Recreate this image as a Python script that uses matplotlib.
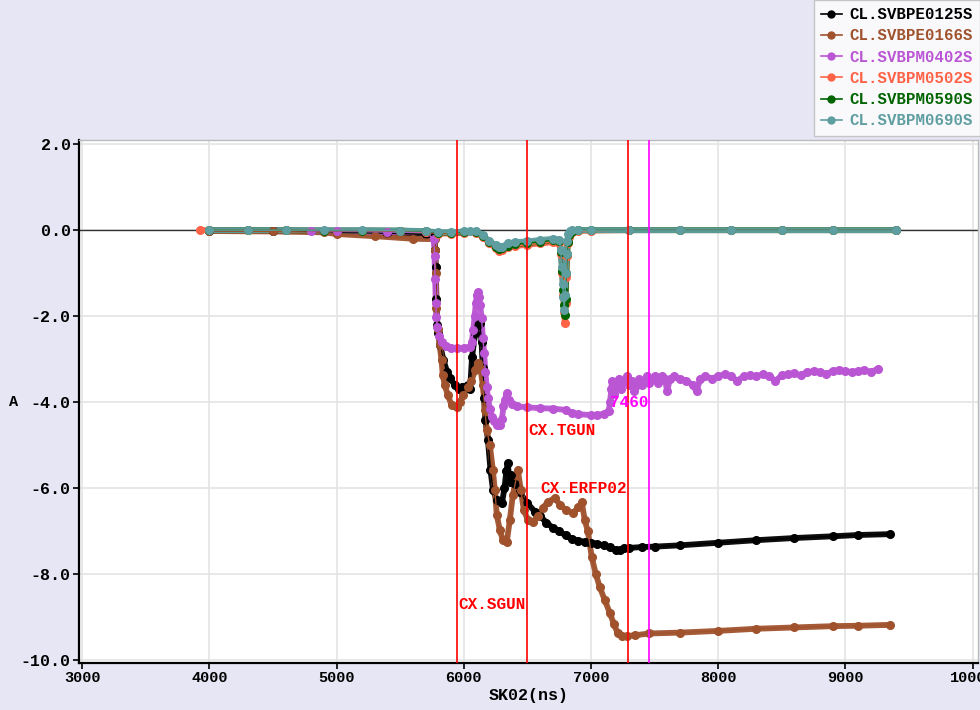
import matplotlib
matplotlib.use("Agg")
import matplotlib.pyplot as plt
from matplotlib.lines import Line2D

# ---------------- data ----------------
names = ["CL.SVBPE0125S", "CL.SVBPE0166S", "CL.SVBPM0402S",
         "CL.SVBPM0502S", "CL.SVBPM0590S", "CL.SVBPM0690S"]
colors = ["#000000", "#A0522D", "#BA55D3", "#FF6347", "#006400", "#5F9EA0"]

e0125_x = [4000, 4500, 4900, 5000, 5400, 5700, 5770, 5775, 5780, 5785, 5790, 5800, 5815, 5840,
           5870, 5890, 5930, 5960, 5990, 6030, 6050, 6065, 6090, 6110, 6127, 6140, 6150, 6160,
           6170, 6190, 6210, 6230, 6260, 6300, 6320, 6335, 6346, 6360, 6375, 6400, 6440, 6500,
           6560, 6600, 6650, 6700, 6750, 6800, 6850, 6900, 6950, 7000, 7050, 7100, 7150, 7200,
           7230, 7260, 7300, 7400, 7500, 7700, 8000, 8300, 8600, 8900, 9100, 9350]
e0125_y = [-0.01, -0.01, -0.03, -0.05, -0.07, -0.1, -0.12, -0.47, -0.86, -1.6, -2.2, -2.4, -2.67,
           -3.02, -3.3, -3.44, -3.6, -3.7, -3.65, -3.6, -3.7, -2.95, -2.4, -2.2, -2.16, -2.6, -3.2,
           -3.9, -4.42, -4.88, -5.58, -6.05, -6.28, -6.35, -6.0, -5.6, -5.42, -5.85, -5.7, -5.9,
           -6.1, -6.35, -6.55, -6.65, -6.8, -6.92, -7.0, -7.1, -7.18, -7.22, -7.25, -7.27, -7.3,
           -7.33, -7.38, -7.45, -7.44, -7.4, -7.39, -7.37, -7.36, -7.33, -7.27, -7.21, -7.16,
           -7.12, -7.09, -7.07]

e0166_x = [4000, 4500, 4900, 5000, 5300, 5600, 5770, 5775, 5780, 5785, 5795, 5810, 5825, 5835,
           5850, 5875, 5905, 5945, 5970, 5993, 6030, 6060, 6090, 6111, 6130, 6150, 6166, 6181,
           6205, 6229, 6244, 6260, 6284, 6307, 6338, 6362, 6386, 6425, 6449, 6472, 6504, 6543,
           6580, 6620, 6660, 6716, 6760, 6800, 6857, 6900, 6928, 6951, 6975, 7006, 7038, 7069,
           7108, 7148, 7179, 7210, 7242, 7281, 7350, 7460, 7700, 8000, 8300, 8600, 8900, 9100,
           9350]
e0166_y = [-0.02, -0.03, -0.05, -0.09, -0.14, -0.2, -0.21, -0.47, -1.0, -1.81, -2.3, -2.67, -3.02,
           -3.37, -3.6, -3.84, -4.07, -4.12, -4.0, -3.84, -3.65, -3.5, -3.26, -3.09, -3.2, -3.6,
           -4.19, -4.65, -5.0, -5.58, -6.05, -6.63, -6.98, -7.21, -7.26, -6.74, -6.16, -5.58,
           -6.05, -6.51, -6.74, -6.79, -6.65, -6.47, -6.32, -6.23, -6.4, -6.5, -6.58, -6.45,
           -6.33, -6.74, -7.0, -7.6, -8.0, -8.3, -8.6, -8.9, -9.15, -9.37, -9.45, -9.44, -9.42,
           -9.38, -9.36, -9.32, -9.27, -9.24, -9.21, -9.2, -9.18]

m0402_x = [4800, 5000, 5400, 5700, 5765, 5770, 5775, 5780, 5785, 5790,
           5805, 5830, 5860, 5900, 5950, 6000, 6050, 6063, 6075, 6085,
           6095, 6103, 6111, 6120, 6130, 6140, 6150, 6160, 6170, 6180,
           6190, 6205, 6220, 6240, 6260, 6284, 6300, 6312, 6323, 6338,
           6355, 6380, 6420, 6500, 6600, 6700, 6800, 6850, 6900, 7000,
           7050, 7100, 7140, 7150, 7160, 7165, 7180, 7200, 7220, 7240,
           7260, 7280, 7300, 7320, 7340, 7360, 7380, 7400, 7420, 7440,
           7460, 7480, 7500, 7530, 7560, 7580, 7600, 7620, 7650, 7700,
           7750, 7800, 7830, 7860, 7900, 7950, 8000, 8050, 8100, 8150,
           8200, 8250, 8300, 8350, 8400, 8450, 8500, 8550, 8600, 8650,
           8700, 8750, 8800, 8850, 8900, 8950, 9000, 9050, 9100, 9150,
           9200, 9260]
m0402_y = [-0.02, -0.03, -0.04, -0.05, -0.2, -0.6, -1.14, -1.7, -2.02, -2.26,
           -2.45, -2.6, -2.7, -2.74, -2.75, -2.74, -2.72, -2.6, -2.33, -2.0,
           -1.7, -1.5, -1.44, -1.55, -1.75, -2.05, -2.5, -2.85, -3.3, -3.65,
           -3.9, -4.15, -4.35, -4.45, -4.52, -4.53, -4.4, -4.1, -3.95, -3.79,
           -3.95, -4.05, -4.1, -4.12, -4.14, -4.15, -4.18, -4.25, -4.28, -4.3,
           -4.3, -4.27, -4.2, -4.0, -3.7, -3.5, -3.8, -3.6, -3.45, -3.7,
           -3.5, -3.4, -3.6, -3.5, -3.75, -3.6, -3.45, -3.6, -3.5, -3.4,
           -3.55, -3.45, -3.4, -3.55, -3.4, -3.45, -3.75, -3.45, -3.4, -3.45,
           -3.5, -3.6, -3.75, -3.45, -3.4, -3.45, -3.4, -3.35, -3.4, -3.5,
           -3.4, -3.38, -3.4, -3.35, -3.4, -3.5, -3.38, -3.35, -3.33, -3.38,
           -3.3, -3.28, -3.3, -3.35, -3.28, -3.25, -3.28, -3.3, -3.28, -3.25,
           -3.3, -3.22]

m0502_x = [3930, 4000, 4300, 4600, 4900, 5200, 5500, 5700, 5800, 5900, 6000, 6100, 6150, 6200,
           6250, 6280, 6300, 6350, 6400, 6500, 6600, 6700, 6750, 6765, 6775, 6782, 6788, 6794,
           6800, 6806, 6812, 6818, 6825, 6840, 6860, 6900, 7000, 7300, 7700, 8100, 8500, 8900,
           9400]
m0502_y = [0.0, 0.0, 0.0, 0.0, -0.01, -0.01, -0.02, -0.04, -0.08, -0.08, -0.06, -0.06, -0.16,
           -0.3, -0.42, -0.48, -0.46, -0.4, -0.37, -0.34, -0.31, -0.28, -0.3, -0.55, -1.0, -1.5,
           -1.9, -2.16, -1.7, -1.1, -0.6, -0.3, -0.15, -0.06, -0.03, -0.02, -0.01, 0.0, 0.0,
           0.0, 0.0, 0.0, 0.0]

m0590_x = [4000, 4300, 4600, 4900, 5200, 5500, 5700, 5800, 5900, 6000, 6100, 6150, 6200, 6250,
           6280, 6300, 6350, 6400, 6500, 6600, 6700, 6750, 6765, 6775, 6782, 6788, 6794, 6800,
           6806, 6812, 6818, 6825, 6840, 6860, 6900, 7000, 7300, 7700, 8100, 8500, 8900, 9400]
m0590_y = [0.0, 0.0, 0.0, -0.01, -0.01, -0.01, -0.03, -0.06, -0.06, -0.05, -0.04, -0.14, -0.27,
           -0.38, -0.44, -0.42, -0.36, -0.33, -0.3, -0.27, -0.24, -0.26, -0.5, -0.95, -1.4, -1.75,
           -1.98, -1.6, -1.0, -0.55, -0.28, -0.12, -0.04, -0.01, 0.0, 0.0, 0.0, 0.0, 0.0, 0.0,
           0.0, 0.0]

m0690_x = [4000, 4300, 4600, 4900, 5200, 5500, 5700, 5800, 5900, 6000, 6050, 6100, 6150, 6200,
           6250, 6280, 6300, 6350, 6400, 6500, 6600, 6700, 6750, 6762, 6770, 6778, 6784, 6790,
           6796, 6802, 6808, 6814, 6822, 6835, 6850, 6900, 7000, 7300, 7700, 8100, 8500, 8900,
           9400]
m0690_y = [0.0, 0.0, 0.0, 0.0, 0.0, -0.01, -0.02, -0.05, -0.05, -0.03, -0.02, -0.03, -0.12,
           -0.25, -0.35, -0.4, -0.38, -0.31, -0.28, -0.26, -0.23, -0.2, -0.22, -0.45, -0.85,
           -1.25, -1.55, -1.86, -1.5, -1.0, -0.55, -0.25, -0.1, -0.03, 0.0, 0.0, 0.0, 0.0, 0.0,
           0.0, 0.0, 0.0, 0.0]

series_x = [e0125_x, e0166_x, m0402_x, m0502_x, m0590_x, m0690_x]
series_y = [e0125_y, e0166_y, m0402_y, m0502_y, m0590_y, m0690_y]

marker_lines = [5950, 6500, 7290, 7460]
marker_colors = ["#FF0000", "#FF0000", "#FF0000", "#FF00FF"]
annot_text = ["CX.SGUN", "CX.TGUN", "CX.ERFP02", "7460"]
annot_y = [-8.7, -4.67, -6.0, -4.0]
annot_ha = ["left", "left", "right", "right"]

xticks = [3000, 4000, 5000, 6000, 7000, 8000, 9000, 10000]
yticks = [2.0, 0.0, -2.0, -4.0, -6.0, -8.0, -10.0]

# ---------------- plot ----------------
FONT = "Liberation Mono"
plt.rcParams["font.family"] = [FONT, "DejaVu Sans Mono"]
plt.rcParams["font.weight"] = "bold"

fig = plt.figure(figsize=(9.8, 7.1), dpi=100, facecolor="#E6E6F5")
ax = fig.add_axes([0.0806, 0.066, 0.917, 0.737])
ax.set_facecolor("white")

ax.grid(True, color="#E4E4E4", lw=1.2, zorder=0)
ax.axhline(0, color="#333333", lw=1.0, zorder=1.8)

for xs, ys, c in zip(series_x, series_y, colors):
    ax.plot(xs, ys, color=c, lw=4.2, solid_capstyle="round", solid_joinstyle="round",
            alpha=0.95, zorder=2)
    ax.plot(xs, ys, color=c, lw=1, marker="o", ms=5.5, mec=c, mfc=c, zorder=3)

for xv, c, t, yv, ha in zip(marker_lines, marker_colors, annot_text, annot_y, annot_ha):
    ax.axvline(xv, color=c, lw=1.2, zorder=4)
    ax.text(xv + (5 if ha == "left" else -5), yv, t, color=c, fontsize=11.5,
            fontweight="bold", ha=ha, va="center", zorder=5)

ax.set_xlim(2975, 10040)
ax.set_ylim(-10.07, 2.1)
ax.set_xticks(xticks)
ax.set_xticklabels([str(v) for v in xticks])
ax.set_yticks(yticks)
ax.set_yticklabels([f"{v:.1f}" for v in yticks])
ax.tick_params(axis="both", length=4, width=1.2, direction="out", pad=2)
ax.tick_params(axis="y", labelsize=12)
ax.tick_params(axis="x", labelsize=11)
for lab in ax.get_xticklabels() + ax.get_yticklabels():
    lab.set_fontweight("bold")

for s in ["left", "bottom"]:
    ax.spines[s].set_color("black")
    ax.spines[s].set_linewidth(1.6)
for s in ["top", "right"]:
    ax.spines[s].set_color("#BBBBBB")
    ax.spines[s].set_linewidth(1.0)

ax.set_xlabel("SK02(ns)", fontsize=12, fontweight="bold", labelpad=2)
ax.set_ylabel("A", fontsize=11, fontweight="bold", rotation=0, labelpad=5, va="center")

handles = [Line2D([0], [0], color=c, lw=1.2, marker="o", ms=5) for c in colors]
leg = fig.legend(handles, names, loc="upper right", bbox_to_anchor=(1.0, 1.0),
                 frameon=True, fancybox=False, borderaxespad=0.0, handlelength=1.3,
                 handletextpad=0.5, labelspacing=0.4, borderpad=0.45,
                 prop={"family": FONT, "weight": "bold", "size": 11.3})
leg.get_frame().set_facecolor("white")
leg.get_frame().set_edgecolor("#BBBBBB")
for txt, c in zip(leg.get_texts(), colors):
    txt.set_color(c)

fig.savefig("out.png", dpi=100, facecolor=fig.get_facecolor())
